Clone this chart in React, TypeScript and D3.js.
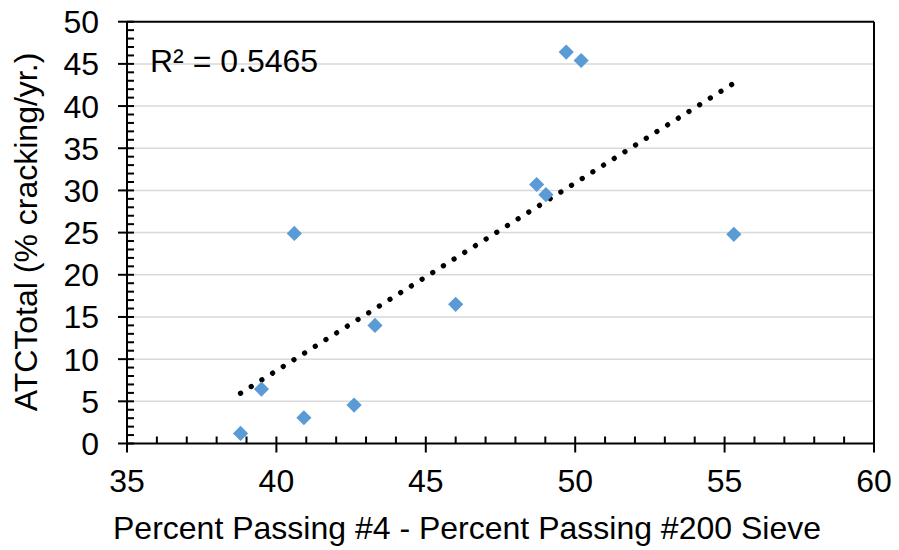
import React from "react";
import * as d3 from "d3";

const xValues = [38.8, 39.5, 40.92, 42.6, 40.6, 43.3, 46.0, 49.7, 50.2, 48.71, 49.02, 55.31];
const yValues = [1.2, 6.45, 3.05, 4.55, 24.9, 14.0, 16.5, 46.4, 45.4, 30.7, 29.5, 24.8];
const xTicks = [35, 40, 45, 50, 55, 60];
const yTicks = [0, 5, 10, 15, 20, 25, 30, 35, 40, 45, 50];
const r2Label = "R² = 0.5465";
const xTitle = "Percent Passing #4 - Percent Passing #200 Sieve";
const yTitle = "ATCTotal (% cracking/yr.)";

const W = 899;
const H = 550;
const FONT = "'Liberation Sans', Arial, sans-serif";
const FS = 32;

export default function App() {
  const x = d3.scaleLinear().domain([35, 60]).range([127, 874]);
  const y = d3.scaleLinear().domain([0, 50]).range([443.5, 21.7]);

  const n = xValues.length;
  const mx = d3.mean(xValues) as number;
  const my = d3.mean(yValues) as number;
  let sxy = 0, sxx = 0;
  for (let i = 0; i < n; i++) {
    sxy += (xValues[i] - mx) * (yValues[i] - my);
    sxx += (xValues[i] - mx) ** 2;
  }
  const slope = sxy / sxx;
  const icpt = my - slope * mx;
  const x0 = d3.min(xValues) as number;
  const x1 = d3.max(xValues) as number;
  const line = d3.line<number>().x((v) => x(v)).y((v) => y(slope * v + icpt));

  const minorX = d3.range(35, 60.001, 1).filter((v) => v % 5 !== 0);
  const minorY = d3.range(0, 50.001, 1).filter((v) => v % 5 !== 0);
  const diamond = "M0,-7.6L7.6,0L0,7.6L-7.6,0Z";

  return (
    <svg width={W} height={H} style={{ position: "absolute", left: 0, top: 0, background: "#fff" }}>
      <rect width={W} height={H} fill="#fff" />
      {yTicks.filter((v) => v > 0 && v < 50).map((v) => (
        <line key={"g" + v} x1={x(35)} x2={x(60)} y1={y(v)} y2={y(v)} stroke="#D9D9D9" strokeWidth={1.5} />
      ))}
      <line x1={x(35)} x2={x(60)} y1={y(50)} y2={y(50)} stroke="#000" strokeWidth={2} />
      <line x1={x(60)} x2={x(60)} y1={y(50)} y2={y(0)} stroke="#000" strokeWidth={2} />
      <line x1={x(35)} x2={x(35)} y1={y(50)} y2={y(0)} stroke="#000" strokeWidth={2} />
      <line x1={x(35)} x2={x(60)} y1={y(0)} y2={y(0)} stroke="#000" strokeWidth={2} />
      {xTicks.map((v) => (
        <line key={"xt" + v} x1={x(v)} x2={x(v)} y1={y(0) - 7} y2={y(0) + 9} stroke="#000" strokeWidth={2} />
      ))}
      {minorX.map((v) => (
        <line key={"xm" + v} x1={x(v)} x2={x(v)} y1={y(0) - 7} y2={y(0)} stroke="#000" strokeWidth={2} />
      ))}
      {yTicks.map((v) => (
        <line key={"yt" + v} x1={x(35) - 9} x2={x(35) + 7} y1={y(v)} y2={y(v)} stroke="#000" strokeWidth={2} />
      ))}
      {minorY.map((v) => (
        <line key={"ym" + v} x1={x(35)} x2={x(35) + 7} y1={y(v)} y2={y(v)} stroke="#000" strokeWidth={2} />
      ))}
      {xTicks.map((v) => (
        <text key={"xl" + v} x={x(v)} y={492} textAnchor="middle" fontFamily={FONT} fontSize={FS} fill="#000">{v}</text>
      ))}
      {yTicks.map((v) => (
        <text key={"yl" + v} x={99} y={y(v)} dy="0.36em" textAnchor="end" fontFamily={FONT} fontSize={FS} fill="#000">{v}</text>
      ))}
      <path d={line([x0, x1]) as string} fill="none" stroke="#000" strokeWidth={5.3} strokeLinecap="round" strokeDasharray="0.01 12.6" />
      {xValues.map((v, i) => (
        <path key={"p" + i} d={diamond} transform={`translate(${x(v)},${y(yValues[i])})`} fill="#5B9BD5" />
      ))}
      <text x={150} y={72} fontFamily={FONT} fontSize={FS} fill="#000">{r2Label}</text>
      <text x={467} y={539} textAnchor="middle" fontFamily={FONT} fontSize={FS} fill="#000">{xTitle}</text>
      <text transform={`translate(37,232) rotate(-90)`} textAnchor="middle" fontFamily={FONT} fontSize={FS} fill="#000">{yTitle}</text>
    </svg>
  );
}
